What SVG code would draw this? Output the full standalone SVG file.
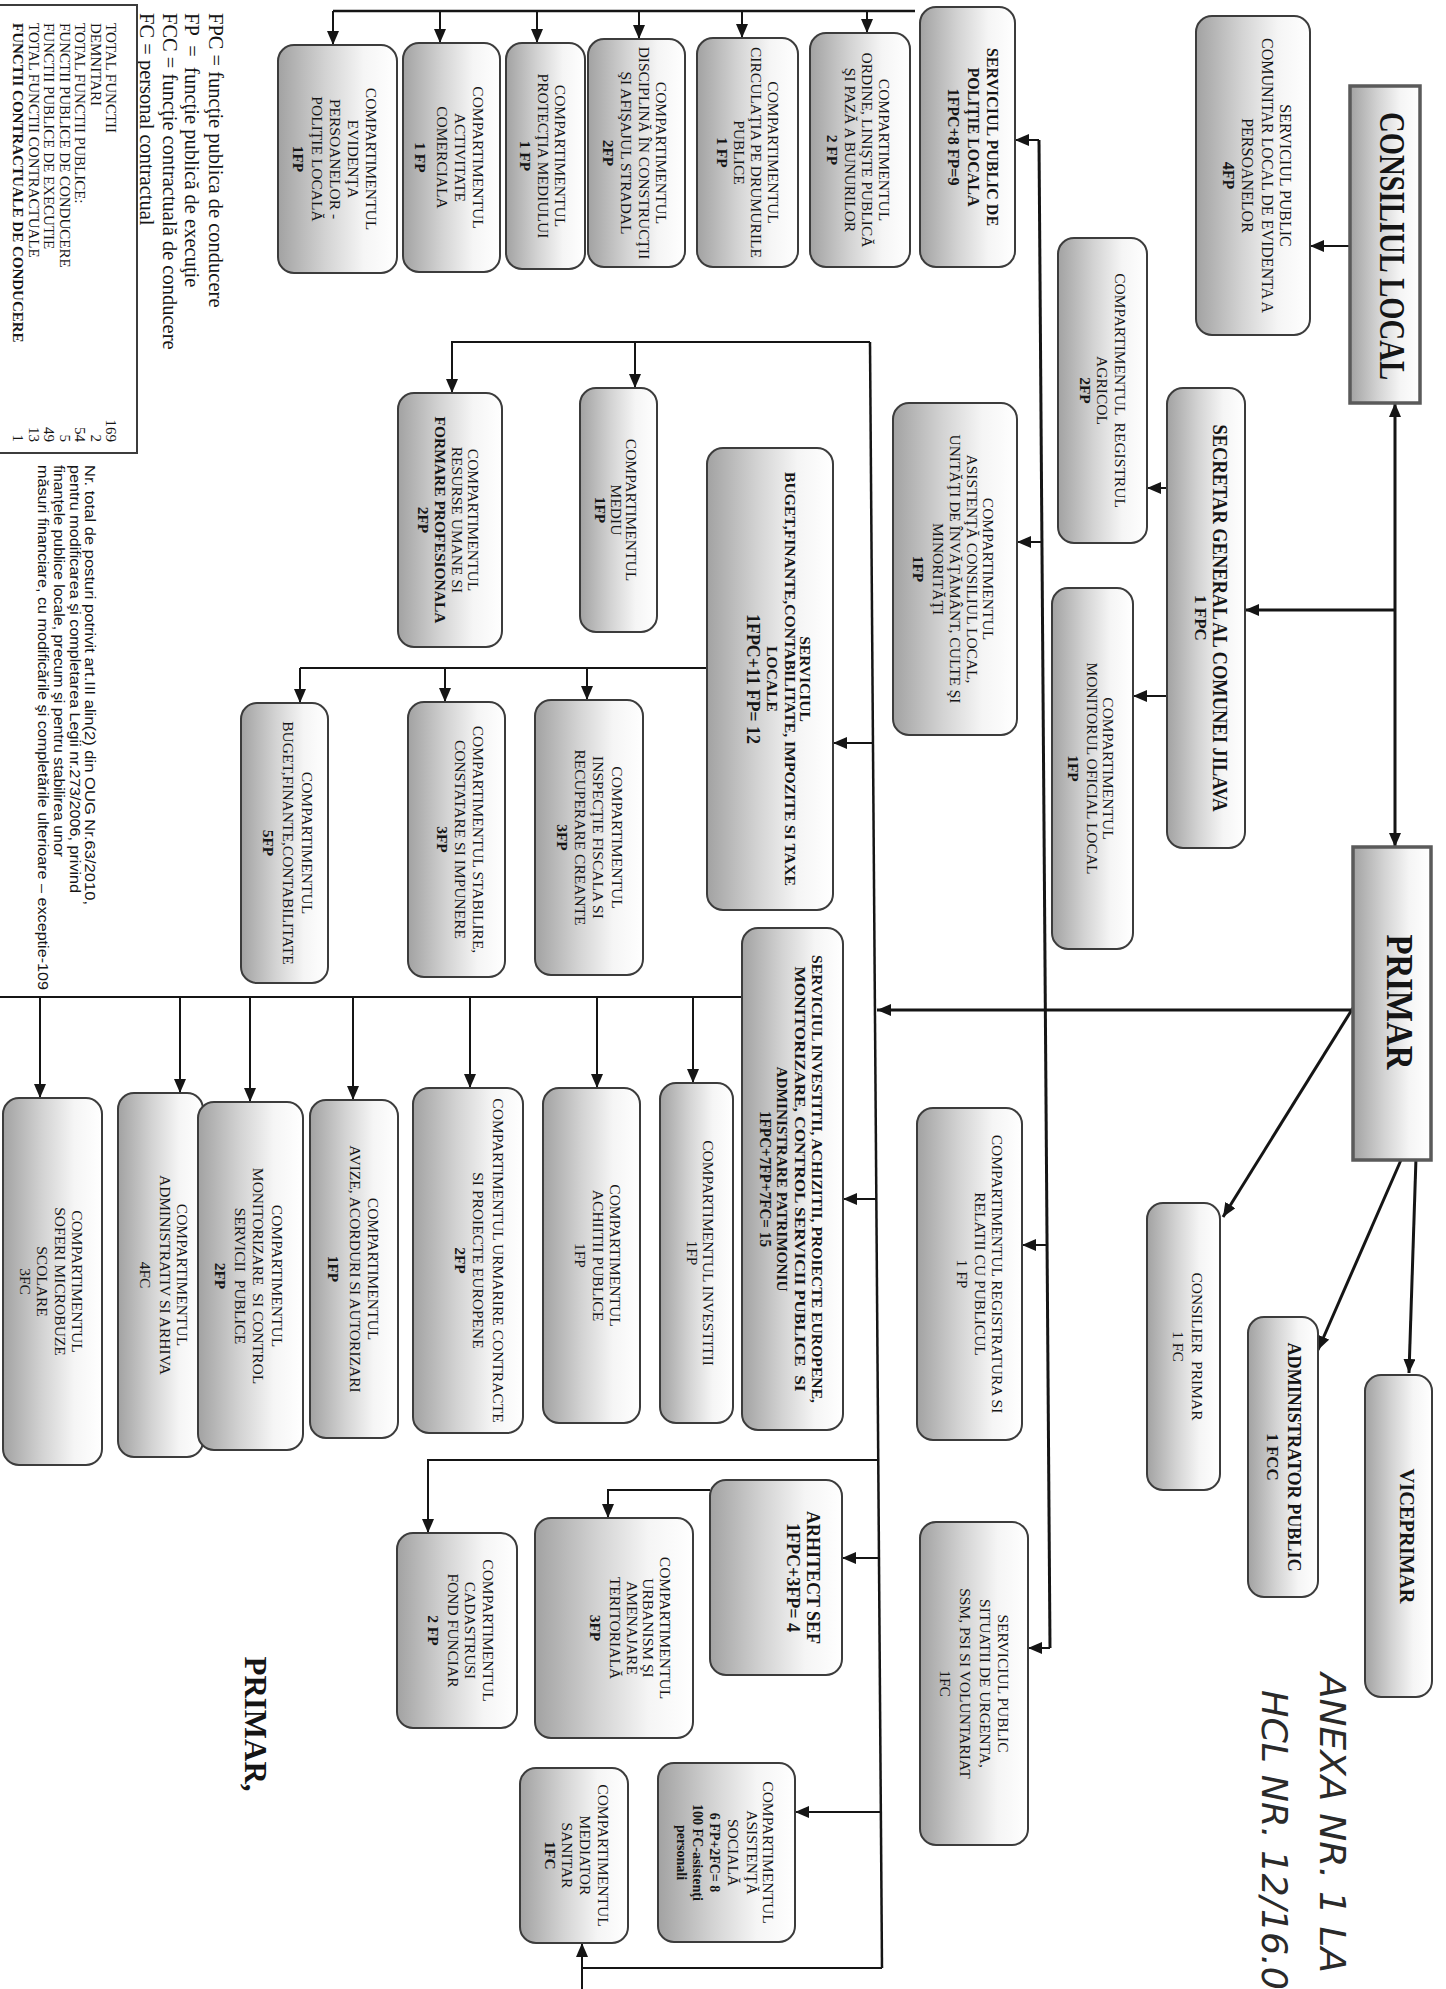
<svg xmlns="http://www.w3.org/2000/svg" width="1446" height="1989" viewBox="0 0 1446 1989">
<style>
.bx{fill:url(#g);stroke:#3c3c3c;stroke-width:2}
.sq{fill:url(#g);stroke:#5a5a5a;stroke-width:3.5}
.t{font-family:"Liberation Serif","Times New Roman",serif;font-size:15.5px;fill:#151515;text-anchor:middle}
.b{font-weight:bold}
.s{text-anchor:start}
.e{text-anchor:end}
.sans{font-family:"Liberation Sans",Arial,sans-serif}
.hw{font-family:"DejaVu Sans","Liberation Sans",sans-serif;font-weight:200;font-style:italic;font-size:36px;fill:#2a2a2a}
.ln{fill:none;stroke:#151515;stroke-width:2}
.th{stroke-width:3}
.ar{marker-end:url(#ah)}
</style>
<defs>
<linearGradient id="g" x1="0" y1="1" x2="0" y2="0">
<stop offset="0" stop-color="#a2a2a2"/>
<stop offset="0.4" stop-color="#d3d3d3"/>
<stop offset="0.72" stop-color="#f5f5f5"/>
<stop offset="1" stop-color="#ffffff"/>
</linearGradient>
<marker id="ah" viewBox="0 0 14 12" refX="14" refY="6" markerWidth="14" markerHeight="12" orient="auto-start-reverse" markerUnits="userSpaceOnUse">
<path d="M0,0 L14,6 L0,12 z" fill="#151515"/>
</marker>
</defs>
<rect x="0" y="0" width="1446" height="1989" fill="#ffffff"/>
<g transform="translate(1446,0) rotate(90)">

<g id="connectors">
<path class="ln th" d="M1648,396 L140,407"/>
<path class="ln ar" d="M140,407 L140,431"/>
<path class="ln ar" d="M542,404 L542,429"/>
<path class="ln ar" d="M1245,399 L1245,424"/>
<path class="ln ar" d="M1648,396 L1648,418"/>
<path class="ln th ar" d="M403,51 L847,51" marker-start="url(#ah)"/>
<path class="ln th ar" d="M610,51 L610,201"/>
<path class="ln ar" d="M246,96 L246,136"/>
<path class="ln ar" d="M488,279 L488,299"/>
<path class="ln ar" d="M696,279 L696,313"/>
<path class="ln th ar" d="M1010,93 L1010,569"/>
<path class="ln th ar" d="M1008,93 L1217,223"/>
<path class="ln th ar" d="M1160,45 L1350,128"/>
<path class="ln th ar" d="M1158,30 L1373,37"/>
<path class="ln" style="stroke-width:2.5" d="M342,576 L1968,564"/>
<path class="ln ar" d="M342,576 L342,994 L393,994"/>
<path class="ln ar" d="M342,811 L388,811"/>
<path class="ln ar" d="M743,573 L743,613"/>
<path class="ln ar" d="M1199,570 L1199,603"/>
<path class="ln ar" d="M1460,568 L1460,1018 L1533,1018"/>
<path class="ln ar" d="M1558,567 L1558,604"/>
<path class="ln ar" d="M1812,565 L1812,651"/>
<path class="ln" d="M1968,564 L1968,864"/>
<path class="ln ar" d="M1989,864 L1943,864"/>
<path class="ln" d="M668,739 L668,1146"/>
<path class="ln ar" d="M668,859 L700,859"/>
<path class="ln ar" d="M668,1001 L702,1001"/>
<path class="ln ar" d="M668,1146 L703,1146"/>
<path class="ln" d="M997,704 L997,1446"/>
<path class="ln ar" d="M997,753 L1083,753"/>
<path class="ln ar" d="M997,849 L1088,849"/>
<path class="ln ar" d="M997,976 L1088,976"/>
<path class="ln ar" d="M997,1093 L1100,1093"/>
<path class="ln ar" d="M997,1196 L1102,1196"/>
<path class="ln ar" d="M997,1266 L1093,1266"/>
<path class="ln ar" d="M997,1406 L1098,1406"/>
<path class="ln ar" d="M1490,736 L1490,838 L1518,838"/>
<path class="ln" style="stroke-width:2.5" d="M11,531 L11,1113"/>
<path class="ln ar" d="M11,1113 L45,1113"/>
<path class="ln ar" d="M11,579 L33,579"/>
<path class="ln ar" d="M11,704 L38,704"/>
<path class="ln ar" d="M11,807 L39,807"/>
<path class="ln ar" d="M11,909 L43,909"/>
<path class="ln ar" d="M11,1006 L43,1006"/>
</g>

<g id="n-consiliul-local">
<rect class="sq" x="86" y="26" width="317" height="70"/>
<text class="t b" x="246" y="66" style="font-size:36px" textLength="268" lengthAdjust="spacingAndGlyphs">CONSILIUL LOCAL</text>
</g>
<g id="n-evidenta-persoanelor">
<rect class="bx" x="16" y="136" width="319" height="114" rx="16"/>
<text class="t" x="175.5" y="166" style="font-size:16px">SERVICIUL PUBLIC</text>
<text class="t" x="175.5" y="184" style="font-size:16px">COMUNITAR LOCAL DE EVIDENTA A</text>
<text class="t" x="175.5" y="204" style="font-size:16px">PERSOANELOR</text>
<text class="t b" x="175.5" y="223" style="font-size:16px">4FP</text>
</g>
<g id="n-politie-locala">
<rect class="bx" x="7" y="431" width="260" height="95" rx="16"/>
<text class="t b" x="137" y="459" style="font-size:16px">SERVICIUL PUBLIC DE</text>
<text class="t b" x="137" y="478" style="font-size:16px">POLIŢIE LOCALA</text>
<text class="t b" x="137" y="498" style="font-size:16px">1FPC+8 FP=9</text>
</g>
<g id="n-ordine">
<rect class="bx" x="33" y="536" width="234" height="100" rx="16"/>
<text class="t" x="150" y="567">COMPARTIMENTUL</text>
<text class="t" x="150" y="584">ORDINE, LINIŞTE PUBLICĂ</text>
<text class="t" x="150" y="601">ŞI PAZĂ A BUNURILOR</text>
<text class="t b" x="150" y="619">2 FP</text>
</g>
<g id="n-circulatia">
<rect class="bx" x="38" y="648" width="229" height="101" rx="16"/>
<text class="t" x="152.5" y="678">COMPARTIMENTUL</text>
<text class="t" x="152.5" y="695">CIRCULAŢIA PE DRUMURILE</text>
<text class="t" x="152.5" y="712">PUBLICE</text>
<text class="t b" x="152.5" y="729">1 FP</text>
</g>
<g id="n-disciplina">
<rect class="bx" x="39" y="761" width="228" height="97" rx="16"/>
<text class="t" x="153" y="790">COMPARTIMENTUL</text>
<text class="t" x="153" y="807">DISCIPLINĂ ÎN CONSTRUCŢII</text>
<text class="t" x="153" y="825">ŞI AFIŞAJUL STRADAL</text>
<text class="t b" x="153" y="843">2FP</text>
</g>
<g id="n-protectia-mediului">
<rect class="bx" x="43" y="861" width="226" height="79" rx="16"/>
<text class="t" x="156" y="891">COMPARTIMENTUL</text>
<text class="t" x="156" y="908">PROTECŢIA MEDIULUI</text>
<text class="t b" x="156" y="926">1 FP</text>
</g>
<g id="n-activitate-comerciala">
<rect class="bx" x="43" y="946" width="229" height="97" rx="16"/>
<text class="t" x="157.5" y="973">COMPARTIMENTUL</text>
<text class="t" x="157.5" y="991">ACTIVITATE</text>
<text class="t" x="157.5" y="1009">COMERCIALA</text>
<text class="t b" x="157.5" y="1031">1 FP</text>
</g>
<g id="n-evidenta-politie">
<rect class="bx" x="45" y="1049" width="228" height="119" rx="16"/>
<text class="t" x="159" y="1080">COMPARTIMENTUL</text>
<text class="t" x="159" y="1098">EVIDENŢA</text>
<text class="t" x="159" y="1116">PERSOANELOR -</text>
<text class="t" x="159" y="1134">POLIŢIE LOCALĂ</text>
<text class="t b" x="159" y="1153">1FP</text>
</g>
<g id="n-registrul-agricol">
<rect class="bx" x="238" y="299" width="305" height="89" rx="16"/>
<text class="t" x="390.5" y="331" xml:space="preserve">COMPARTIMENTUL  REGISTRUL</text>
<text class="t" x="390.5" y="349">AGRICOL</text>
<text class="t b" x="390.5" y="366">2FP</text>
</g>
<g id="n-secretar">
<rect class="bx" x="388" y="201" width="460" height="78" rx="16"/>
<text class="t b" x="618" y="233" style="font-size:20px" textLength="387" lengthAdjust="spacingAndGlyphs">SECRETAR GENERAL AL COMUNEI JILAVA</text>
<text class="t b" x="618" y="251" style="font-size:17px">1 FPC</text>
</g>
<g id="n-monitorul-oficial">
<rect class="bx" x="588" y="313" width="361" height="81" rx="16"/>
<text class="t" x="768.5" y="343">COMPARTIMENTUL</text>
<text class="t" x="768.5" y="359">MONITORUL OFICIAL LOCAL</text>
<text class="t b" x="768.5" y="378">1FP</text>
</g>
<g id="n-asistenta-consiliu">
<rect class="bx" x="403" y="429" width="332" height="124" rx="16"/>
<text class="t" x="569" y="463">COMPARTIMENTUL</text>
<text class="t" x="569" y="479">ASISTENŢĂ CONSILIUL LOCAL,</text>
<text class="t" x="569" y="496">UNITĂŢI DE ÎNVĂŢĂMÂNT, CULTE ŞI</text>
<text class="t" x="569" y="513">MINORITĂŢI</text>
<text class="t b" x="569" y="533">1FP</text>
</g>
<g id="n-primar">
<rect class="sq" x="847" y="15" width="313" height="78"/>
<text class="t b" x="1002" y="59" style="font-size:38px" textLength="135" lengthAdjust="spacingAndGlyphs">PRIMAR</text>
</g>
<g id="n-consilier">
<rect class="bx" x="1203" y="226" width="287" height="73" rx="16"/>
<text class="t" x="1346.5" y="254" xml:space="preserve">CONSILIER  PRIMAR</text>
<text class="t" x="1346.5" y="273">1 FC</text>
</g>
<g id="n-administrator">
<rect class="bx" x="1317" y="128" width="280" height="70" rx="16"/>
<text class="t b" x="1457" y="158" style="font-size:18px" textLength="229" lengthAdjust="spacingAndGlyphs">ADMINISTRATOR PUBLIC</text>
<text class="t b" x="1457" y="179" style="font-size:17px">1 FCC</text>
</g>
<g id="n-viceprimar">
<rect class="bx" x="1375" y="14" width="322" height="67" rx="16"/>
<text class="t b" x="1536" y="46" style="font-size:21px" textLength="135" lengthAdjust="spacingAndGlyphs">VICEPRIMAR</text>
</g>
<g id="n-registratura">
<rect class="bx" x="1108" y="424" width="332" height="105" rx="16"/>
<text class="t" x="1274" y="454">COMPARTIMENTUL REGISTRATURA SI</text>
<text class="t" x="1274" y="471">RELATII CU PUBLICUL</text>
<text class="t" x="1274" y="489">1 FP</text>
</g>
<g id="n-urgenta">
<rect class="bx" x="1522" y="418" width="323" height="108" rx="16"/>
<text class="t" x="1683.5" y="448">SERVICIUL PUBLIC</text>
<text class="t" x="1683.5" y="466">SITUATII DE URGENTA,</text>
<text class="t" x="1683.5" y="486">SSM, PSI SI VOLUNTARIAT</text>
<text class="t" x="1683.5" y="506">1FC</text>
</g>
<g id="n-buget-serviciu">
<rect class="bx" x="448" y="613" width="462" height="126" rx="16"/>
<text class="t b" x="679" y="646">SERVICIUL</text>
<text class="t b" x="679" y="661" textLength="414" lengthAdjust="spacingAndGlyphs">BUGET,FINANTE,CONTABILITATE, IMPOZITE SI TAXE</text>
<text class="t b" x="679" y="679">LOCALE</text>
<text class="t b" x="679" y="699" style="font-size:18px" textLength="130" lengthAdjust="spacingAndGlyphs">1FPC+11 FP= 12</text>
</g>
<g id="n-mediu">
<rect class="bx" x="388" y="789" width="244" height="77" rx="16"/>
<text class="t" x="510" y="820">COMPARTIMENTUL</text>
<text class="t" x="510" y="835">MEDIU</text>
<text class="t b" x="510" y="851">1FP</text>
</g>
<g id="n-resurse-umane">
<rect class="bx" x="393" y="944" width="254" height="104" rx="16"/>
<text class="t" x="520" y="978">COMPARTIMENTUL</text>
<text class="t" x="520" y="994">RESURSE UMANE SI</text>
<text class="t b" x="520" y="1011">FORMARE PROFESIONALA</text>
<text class="t b" x="520" y="1028">2FP</text>
</g>
<g id="n-inspectie">
<rect class="bx" x="700" y="803" width="275" height="108" rx="16"/>
<text class="t" x="837.5" y="834">COMPARTIMENTUL</text>
<text class="t" x="837.5" y="853">INSPECŢIE FISCALA SI</text>
<text class="t" x="837.5" y="871">RECUPERARE CREANTE</text>
<text class="t b" x="837.5" y="889">3FP</text>
</g>
<g id="n-stabilire">
<rect class="bx" x="702" y="941" width="275" height="97" rx="16"/>
<text class="t" x="839.5" y="973">COMPARTIMENTUL STABILIRE,</text>
<text class="t" x="839.5" y="991">CONSTATARE SI IMPUNERE</text>
<text class="t b" x="839.5" y="1009">3FP</text>
</g>
<g id="n-buget-contabilitate">
<rect class="bx" x="703" y="1118" width="280" height="87" rx="16"/>
<text class="t" x="843" y="1144">COMPARTIMENTUL</text>
<text class="t" x="843" y="1163">BUGET,FINANTE,CONTABILITATE</text>
<text class="t b" x="843" y="1183">5FP</text>
</g>
<g id="n-serviciul-investitii">
<rect class="bx" x="928" y="603" width="502" height="101" rx="16"/>
<text class="t b" x="1179" y="634" textLength="448" lengthAdjust="spacingAndGlyphs">SERVICIUL INVESTITII, ACHIZITII, PROIECTE EUROPENE,</text>
<text class="t b" x="1179" y="651" textLength="425" lengthAdjust="spacingAndGlyphs" xml:space="preserve">MONITORIZARE, CONTROL SERVICII PUBLICE  SI</text>
<text class="t b" x="1179" y="669" textLength="225" lengthAdjust="spacingAndGlyphs">ADMINISTRARE PATRIMONIU</text>
<text class="t b" x="1179" y="686" style="font-size:16px" textLength="136" lengthAdjust="spacingAndGlyphs">1FPC+7FP+7FC= 15</text>
</g>
<g id="n-investitii">
<rect class="bx" x="1083" y="713" width="340" height="73" rx="16"/>
<text class="t" x="1253" y="743">COMPARTIMENTUL INVESTITII</text>
<text class="t" x="1253" y="759">1FP</text>
</g>
<g id="n-achizitii">
<rect class="bx" x="1088" y="806" width="335" height="97" rx="16"/>
<text class="t" x="1255.5" y="836">COMPARTIMENTUL</text>
<text class="t" x="1255.5" y="853">ACHIITII PUBLICE</text>
<text class="t" x="1255.5" y="871">1FP</text>
</g>
<g id="n-urmarire">
<rect class="bx" x="1088" y="923" width="345" height="110" rx="16"/>
<text class="t" x="1260.5" y="953">COMPARTIMENTUL URMARIRE CONTRACTE</text>
<text class="t" x="1260.5" y="973">SI PROIECTE EUROPENE</text>
<text class="t b" x="1260.5" y="991">2FP</text>
</g>
<g id="n-avize">
<rect class="bx" x="1100" y="1048" width="338" height="88" rx="16"/>
<text class="t" x="1269" y="1078">COMPARTIMENTUL</text>
<text class="t" x="1269" y="1096">AVIZE, ACORDURI SI AUTORIZARI</text>
<text class="t b" x="1269" y="1118">1FP</text>
</g>
<g id="n-administrativ">
<rect class="bx" x="1093" y="1243" width="364" height="85" rx="16"/>
<text class="t" x="1275" y="1269">COMPARTIMENTUL</text>
<text class="t" x="1275" y="1286">ADMINISTRATIV SI ARHIVA</text>
<text class="t" x="1275" y="1306">4FC</text>
</g>
<g id="n-monitorizare">
<rect class="bx" x="1102" y="1143" width="348" height="105" rx="16"/>
<text class="t" x="1276" y="1174">COMPARTIMENTUL</text>
<text class="t" x="1276" y="1193" xml:space="preserve">MONITORIZARE  SI CONTROL</text>
<text class="t" x="1276" y="1211" xml:space="preserve">SERVICII  PUBLICE</text>
<text class="t b" x="1276" y="1231">2FP</text>
</g>
<g id="n-soferi">
<rect class="bx" x="1098" y="1344" width="367" height="99" rx="16"/>
<text class="t" x="1281.5" y="1374">COMPARTIMENTUL</text>
<text class="t" x="1281.5" y="1391">SOFERI MICROBUZE</text>
<text class="t" x="1281.5" y="1409">SCOLARE</text>
<text class="t" x="1281.5" y="1426">3FC</text>
</g>
<g id="n-arhitect">
<rect class="bx" x="1480" y="604" width="195" height="132" rx="16"/>
<text class="t b" x="1577.5" y="639" style="font-size:18px">ARHITECT SEF</text>
<text class="t b" x="1577.5" y="659" style="font-size:18px">1FPC+3FP= 4</text>
</g>
<g id="n-urbanism">
<rect class="bx" x="1518" y="753" width="220" height="158" rx="16"/>
<text class="t" x="1628" y="786">COMPARTIMENTUL</text>
<text class="t" x="1628" y="803">URBANISM ŞI</text>
<text class="t" x="1628" y="819">AMENAJARE</text>
<text class="t" x="1628" y="836">TERITORIALĂ</text>
<text class="t b" x="1628" y="856">3FP</text>
</g>
<g id="n-cadastru">
<rect class="bx" x="1533" y="929" width="195" height="120" rx="16"/>
<text class="t" x="1630.5" y="963">COMPARTIMENTUL</text>
<text class="t" x="1630.5" y="981">CADASTRUSI</text>
<text class="t" x="1630.5" y="998">FOND FUNCIAR</text>
<text class="t b" x="1630.5" y="1018">2 FP</text>
</g>
<g id="n-asistenta-sociala">
<rect class="bx" x="1763" y="651" width="179" height="137" rx="16"/>
<text class="t" x="1852.5" y="683">COMPARTIMENTUL</text>
<text class="t" x="1852.5" y="699">ASISTENŢĂ</text>
<text class="t" x="1852.5" y="718">SOCIALĂ</text>
<text class="t b" x="1852.5" y="736" style="font-size:14px">6 FP+2FC= 8</text>
<text class="t b" x="1852.5" y="753" style="font-size:14px">100 FC-asistenţi</text>
<text class="t b" x="1852.5" y="769" style="font-size:14px">personali</text>
</g>
<g id="n-mediator">
<rect class="bx" x="1768" y="818" width="175" height="108" rx="16"/>
<text class="t" x="1855.5" y="848">COMPARTIMENTUL</text>
<text class="t" x="1855.5" y="866">MEDIATOR</text>
<text class="t" x="1855.5" y="884">SANITAR</text>
<text class="t b" x="1855.5" y="901">1FC</text>
</g>

<g id="legend">
<text class="t s" x="13" y="1237" style="font-size:20.5px">FPC = funcţie publica de conducere</text>
<text class="t s" x="13" y="1261" style="font-size:20.5px" xml:space="preserve">FP  =  funcţie publică de execuţie</text>
<text class="t s" x="13" y="1283" style="font-size:20.5px">FCC = funcţie contractuală de conducere</text>
<text class="t s" x="13" y="1306" style="font-size:20.5px">FC = personal contractual</text>
<rect x="5" y="1309" width="448" height="150" fill="#ffffff" stroke="#3c3c3c" stroke-width="2"/>
<text class="t s" x="23" y="1340" style="font-size:15px">TOTAL FUNCTII</text>
<text class="t s" x="23" y="1355.5" style="font-size:15px">DEMNITARI</text>
<text class="t s" x="23" y="1371" style="font-size:15px">TOTAL FUNCTII PUBLICE:</text>
<text class="t s" x="23" y="1386.5" style="font-size:15px">FUNCTII PUBLICE DE CONDUCERE</text>
<text class="t s" x="23" y="1402" style="font-size:15px">FUNCTII PUBLICE DE EXECUTIE</text>
<text class="t s" x="23" y="1417.5" style="font-size:15px">TOTAL FUNCTII CONTRACTUALE</text>
<text class="t s b" x="23" y="1433" style="font-size:15px">FUNCTII CONTRACTUALE DE CONDUCERE</text>
<text class="t e" x="442" y="1340" style="font-size:15px">169</text>
<text class="t e" x="442" y="1355.5" style="font-size:15px">2</text>
<text class="t e" x="442" y="1371" style="font-size:15px">54</text>
<text class="t e" x="442" y="1386.5" style="font-size:15px">5</text>
<text class="t e" x="442" y="1402" style="font-size:15px">49</text>
<text class="t e" x="442" y="1417.5" style="font-size:15px">13</text>
<text class="t e" x="442" y="1433" style="font-size:15px">1</text>
<text class="t s sans" x="465" y="1361" style="font-size:14px" textLength="440" lengthAdjust="spacingAndGlyphs">Nr. total de posturi potrivit art.III alin(2) din OUG Nr.63/2010,</text>
<text class="t s sans" x="465" y="1376" style="font-size:14px" textLength="428" lengthAdjust="spacingAndGlyphs">pentru modificarea şi completarea Legii nr.273/2006, privind</text>
<text class="t s sans" x="465" y="1392" style="font-size:14px" textLength="392" lengthAdjust="spacingAndGlyphs">finanţele publice locale, precum şi pentru stabilirea unor</text>
<text class="t s sans" x="465" y="1408" style="font-size:14px" textLength="525" lengthAdjust="spacingAndGlyphs">măsuri financiare, cu modificările şi completările ulterioare – exceptie-109</text>
</g>

<g id="signature">
<text class="t b" x="1724" y="1201" style="font-size:32px" textLength="135" lengthAdjust="spacingAndGlyphs">PRIMAR,</text>
<text class="hw" x="1673" y="126" textLength="300" lengthAdjust="spacingAndGlyphs">ANEXA NR. 1 LA</text>
<text class="hw" x="1690" y="184" textLength="300" lengthAdjust="spacingAndGlyphs">HCL NR. 12/16.0</text>
</g>

</g>
</svg>
